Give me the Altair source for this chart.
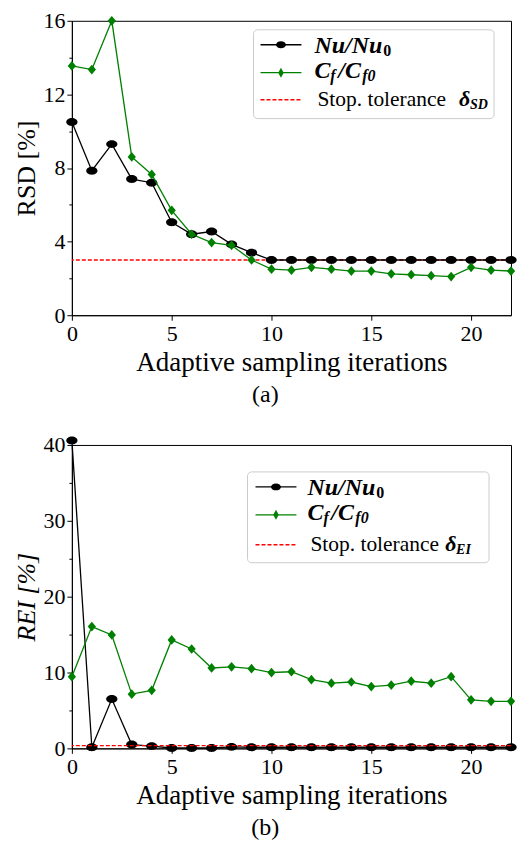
import altair as alt
import pandas as pd

# ---------------- data ----------------
ITER = [0, 1, 2, 3, 4, 5, 6, 7, 8, 9, 10, 11, 12, 13, 14, 15, 16, 17, 18, 19, 20, 21, 22]

RSD_NU = [10.5, 7.85, 9.3, 7.4, 7.2, 5.05, 4.4, 4.55, 3.85, 3.4, 3.0, 3.0, 3.0,
          3.0, 3.0, 3.0, 3.0, 3.0, 3.0, 3.0, 3.0, 3.0, 3.0]
RSD_CF = [13.55, 13.35, 16.0, 8.6, 7.65, 5.7, 4.4, 3.95, 3.8, 3.0, 2.5, 2.45, 2.6,
          2.5, 2.4, 2.4, 2.25, 2.2, 2.15, 2.1, 2.6, 2.45, 2.4]
RSD_TOL = [3.0]

REI_NU = [40.6, 0.15, 6.5, 0.5, 0.3, 0.05, 0.05, 0.05, 0.2, 0.15, 0.15, 0.15, 0.15,
          0.15, 0.15, 0.15, 0.15, 0.15, 0.15, 0.15, 0.15, 0.15, 0.15]
REI_CF = [9.45, 16.05, 14.95, 7.15, 7.65, 14.3, 13.1, 10.6, 10.75, 10.5, 10.0, 10.1, 9.05,
          8.6, 8.75, 8.15, 8.35, 8.85, 8.6, 9.45, 6.4, 6.2, 6.2]
REI_TOL = [0.35]

X_TICKS = [0, 5, 10, 15, 20]
RSD_TICKS = [0, 2, 4, 6, 8, 10, 12, 14, 16]
REI_TICKS = [0, 5, 10, 15, 20, 25, 30, 35, 40]

X_TITLE = "Adaptive sampling iterations"

# ---------------- style ----------------
FONT = "Liberation Serif"
BLACK = "black"
GREEN = "#008000"
RED = "#ff0000"
CIRCLE = "M -1 0 A 1 0.7 0 1 0 1 0 A 1 0.7 0 1 0 -1 0 Z"
DIAMOND = "M 0 -1 L 0.85 0 L 0 1 L -0.85 0 Z"
LEG_DIAMOND = "M 0 -1 L 0.55 0 L 0 1 L -0.55 0 Z"
W = 440
ONE = pd.DataFrame({"k": [0]})


def txt(t, x, y, size, style="normal", weight="normal"):
    return alt.Chart(ONE).mark_text(
        align="left", baseline="alphabetic", font=FONT, fontSize=size,
        fontStyle=style, fontWeight=weight, color="black", text=t
    ).encode(x=alt.value(x), y=alt.value(y))


def legend(box, rows, line_x, mk_x, tx, sub_text, sub_x):
    layers = [alt.Chart(ONE).mark_rect(
        fill="white", fillOpacity=0.85, stroke="#cccccc", strokeWidth=1, cornerRadius=4
    ).encode(x=alt.value(box[0]), x2=alt.value(box[1]), y=alt.value(box[2]), y2=alt.value(box[3]))]
    layers.append(alt.Chart(ONE).mark_rule(color=BLACK, strokeWidth=1.3).encode(
        x=alt.value(line_x[0]), x2=alt.value(line_x[1]), y=alt.value(rows[0])))
    layers.append(alt.Chart(ONE).mark_point(shape=CIRCLE, size=100, filled=True, color=BLACK, opacity=1).encode(
        x=alt.value(mk_x), y=alt.value(rows[0])))
    layers.append(alt.Chart(ONE).mark_rule(color=GREEN, strokeWidth=1.3).encode(
        x=alt.value(line_x[0]), x2=alt.value(line_x[1]), y=alt.value(rows[1])))
    layers.append(alt.Chart(ONE).mark_point(shape=LEG_DIAMOND, size=100, filled=True,
                                            color=GREEN, opacity=1).encode(
        x=alt.value(mk_x), y=alt.value(rows[1])))
    layers.append(alt.Chart(ONE).mark_rule(color=RED, strokeWidth=1.5, strokeDash=[4, 2]).encode(
        x=alt.value(line_x[0]), x2=alt.value(line_x[1]), y=alt.value(rows[2])))
    b0, b1, b2 = rows[0] + 8, rows[1] + 5, rows[2] + 6
    segs = [
        ("Nu/Nu", tx, b0, 24, "italic", "bold"),
        ("0", tx + 69, b0 + 3, 16, "normal", "bold"),
        ("C", tx, b1, 24, "italic", "bold"),
        ("f", tx + 16, b1 + 3, 16, "italic", "bold"),
        ("/C", tx + 24, b1, 24, "italic", "bold"),
        ("f0", tx + 48, b1 + 3, 16, "italic", "bold"),
        ("Stop. tolerance", tx + 3, b2, 21.5, "normal", "normal"),
        ("\u03b4", sub_x, b2, 22, "italic", "bold"),
        (sub_text, sub_x + 11, b2 + 3, 14, "italic", "bold"),
    ]
    for s in segs:
        layers.append(txt(*s))
    return layers


def panel(nu, cf, tol, ymax, yticks, major, ytitle, yitalic, caption, H, leg_layers, tol_on_top):
    df = pd.DataFrame({"it": ITER, "nu": nu, "cf": cf})
    xaxis = alt.Axis(values=X_TICKS, title=X_TITLE, format="d", labelFlush=False)
    yaxis = alt.Axis(
        values=yticks, format="d", title=ytitle,
        titleFontStyle="italic" if yitalic else "normal",
        labelExpr=f"datum.value % {major} === 0 ? datum.label : ''",
        tickSize={"condition": {"test": f"datum.value % {major} === 0", "value": 5}, "value": 3},
    )
    xs = alt.Scale(domain=[0, 22], nice=False, zero=False)
    ys = alt.Scale(domain=[0, ymax], nice=False)
    base = alt.Chart(df)

    def X():
        return alt.X("it:Q", scale=xs, axis=xaxis)

    nu_line = base.mark_line(color=BLACK, strokeWidth=1.3).encode(
        x=X(), y=alt.Y("nu:Q", scale=ys, axis=yaxis))
    nu_pts = base.mark_point(shape=CIRCLE, size=128, filled=True, color=BLACK, opacity=1).encode(
        x=X(), y=alt.Y("nu:Q", scale=ys, axis=yaxis))
    cf_line = base.mark_line(color=GREEN, strokeWidth=1.3).encode(
        x=X(), y=alt.Y("cf:Q", scale=ys, axis=yaxis))
    cf_pts = base.mark_point(shape=DIAMOND, size=95, filled=True, color=GREEN, opacity=1).encode(
        x=X(), y=alt.Y("cf:Q", scale=ys, axis=yaxis))
    tol_rule = alt.Chart(pd.DataFrame({"tol": tol})).mark_rule(
        color=RED, strokeWidth=1.3, strokeDash=[4, 2]).encode(
        y=alt.Y("tol:Q", scale=ys, axis=yaxis))

    if tol_on_top:
        layers = [nu_line, nu_pts, cf_line, cf_pts, tol_rule]
    else:
        layers = [tol_rule, nu_line, nu_pts, cf_line, cf_pts]
    layers += leg_layers
    return alt.layer(*layers).properties(
        width=W, height=H,
        title=alt.TitleParams(caption, orient="bottom", anchor="middle", frame="bounds",
                              font=FONT, fontSize=24, fontWeight="normal", color="black", offset=8),
    )


top_leg = legend(box=(182, 423, 9, 98), rows=(24, 52, 79), line_x=(189, 230), mk_x=209.5,
                 tx=243, sub_text="SD", sub_x=388)
bot_leg = legend(box=(176, 418, 27, 118), rows=(42, 70, 100), line_x=(184, 225), mk_x=204.5,
                 tx=236, sub_text="EI", sub_x=374)

top = panel(RSD_NU, RSD_CF, RSD_TOL, 16, RSD_TICKS, 4, "RSD [%]", False, "(a)", 295, top_leg, False)
bot = panel(REI_NU, REI_CF, REI_TOL, 40, REI_TICKS, 10, "REI [%]", True, "(b)", 304, bot_leg, True)

chart = alt.vconcat(top, bot, spacing=25).properties(
    padding={"left": 5, "top": 0, "right": 0, "bottom": -1}
).configure_view(
    stroke="black", strokeWidth=1
).configure_axis(
    labelFont=FONT, titleFont=FONT, labelFontSize=22, titleFontSize=26,
    titleFontWeight="normal", labelColor="black", titleColor="black",
    domainColor="black", tickColor="black", grid=False, tickSize=5,
    labelPadding=2, domainWidth=1,
).configure_axisX(
    titlePadding=5, labelPadding=3, titleFontSize=27
).configure_axisY(
    titlePadding=3
)

chart.save("out.html", embed_options={"renderer": "svg", "actions": False})
